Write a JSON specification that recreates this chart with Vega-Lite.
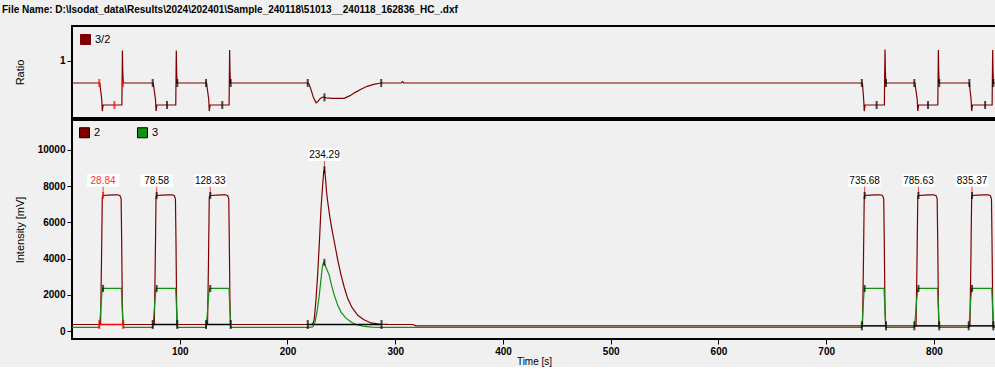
{
  "$schema": "https://vega.github.io/schema/vega-lite/v6.json",
  "background": "#f0f0f0",
  "padding": {"left": 2, "top": 5, "right": 0, "bottom": 0},
  "title": {"text": "File Name: D:\\Isodat_data\\Results\\2024\\202401\\Sample_240118\\51013__240118_162836_HC_.dxf", "anchor": "start", "fontSize": 10, "fontWeight": "bold", "font": "Liberation Sans", "color": "#000", "offset": 10, "dx": -11},
  "config": {
    "font": "Liberation Sans",
    "view": {"stroke": "#000", "strokeWidth": 2, "fill": "#f0f0f0"},
    "axis": {"domainColor": "#000", "tickColor": "#000", "labelColor": "#000", "titleColor": "#000", "labelFont": "Liberation Sans", "titleFont": "Liberation Sans", "labelFontSize": 10, "labelFontWeight": "bold", "titleFontSize": 11, "titleFontWeight": "normal", "grid": false, "tickSize": 5},
    "legend": {"title": null, "orient": "top-left", "padding": 0, "direction": "horizontal", "symbolType": "square", "symbolSize": 100, "symbolStrokeColor": "#000", "symbolStrokeWidth": 1, "symbolOpacity": 1, "labelFontSize": 11, "labelFont": "Liberation Sans", "labelColor": "#000", "labelOffset": 4}
  },
  "spacing": 0,
  "resolve": {"scale": {"color": "independent", "stroke": "independent", "fill": "independent"}, "legend": {"color": "independent", "stroke": "independent", "fill": "independent"}},
  "datasets": {
    "sig": [
      {"t":0,"v":375,"s":"2"},
      {"t":26.5,"v":375,"s":"2"},{"t":27.3,"v":3500,"s":"2"},{"t":28.1,"v":7400,"s":"2"},{"t":28.84,"v":7480,"s":"2"},{"t":34,"v":7500,"s":"2"},{"t":39,"v":7510,"s":"2"},{"t":42.6,"v":7520,"s":"2"},{"t":44.6,"v":7470,"s":"2"},{"t":45.6,"v":7300,"s":"2"},{"t":46.1,"v":5000,"s":"2"},{"t":46.7,"v":1500,"s":"2"},{"t":47.3,"v":375,"s":"2"},
      {"t":76.4,"v":375,"s":"2"},{"t":77.2,"v":3500,"s":"2"},{"t":78.0,"v":7400,"s":"2"},{"t":78.58,"v":7480,"s":"2"},{"t":84,"v":7500,"s":"2"},{"t":89,"v":7510,"s":"2"},{"t":93,"v":7520,"s":"2"},{"t":95,"v":7470,"s":"2"},{"t":96,"v":7300,"s":"2"},{"t":96.5,"v":5000,"s":"2"},{"t":97.1,"v":1500,"s":"2"},{"t":97.7,"v":375,"s":"2"},
      {"t":125.8,"v":375,"s":"2"},{"t":126.6,"v":3500,"s":"2"},{"t":127.4,"v":7400,"s":"2"},{"t":128.33,"v":7480,"s":"2"},{"t":134,"v":7500,"s":"2"},{"t":139,"v":7510,"s":"2"},{"t":142.5,"v":7520,"s":"2"},{"t":144.5,"v":7470,"s":"2"},{"t":145.5,"v":7300,"s":"2"},{"t":146,"v":5000,"s":"2"},{"t":146.6,"v":1500,"s":"2"},{"t":147.2,"v":375,"s":"2"},
      {"t":219,"v":375,"s":"2"},{"t":222.5,"v":385,"s":"2"},{"t":224,"v":480,"s":"2"},{"t":224.9,"v":700,"s":"2"},{"t":226.4,"v":1700,"s":"2"},{"t":228,"v":3100,"s":"2"},{"t":229.6,"v":4900,"s":"2"},{"t":231.1,"v":6750,"s":"2"},{"t":232.7,"v":8100,"s":"2"},{"t":233.6,"v":8750,"s":"2"},{"t":234.29,"v":8900,"s":"2"},{"t":235.2,"v":8500,"s":"2"},{"t":236.2,"v":7700,"s":"2"},{"t":237.3,"v":7150,"s":"2"},{"t":239.3,"v":6300,"s":"2"},{"t":241.3,"v":5600,"s":"2"},{"t":243.5,"v":4920,"s":"2"},{"t":246.6,"v":3950,"s":"2"},{"t":249.7,"v":3100,"s":"2"},{"t":252.8,"v":2400,"s":"2"},{"t":255.9,"v":1800,"s":"2"},{"t":260,"v":1300,"s":"2"},{"t":265.2,"v":880,"s":"2"},{"t":271,"v":640,"s":"2"},{"t":277.5,"v":460,"s":"2"},{"t":285,"v":400,"s":"2"},{"t":293,"v":380,"s":"2"},{"t":316.2,"v":375,"s":"2"},{"t":319.2,"v":300,"s":"2"},
      {"t":733.7,"v":300,"s":"2"},{"t":734.5,"v":3500,"s":"2"},{"t":735.3,"v":7400,"s":"2"},{"t":735.68,"v":7480,"s":"2"},{"t":741,"v":7500,"s":"2"},{"t":746,"v":7510,"s":"2"},{"t":750.4,"v":7520,"s":"2"},{"t":752.4,"v":7470,"s":"2"},{"t":753.4,"v":7300,"s":"2"},{"t":753.9,"v":5000,"s":"2"},{"t":754.5,"v":1500,"s":"2"},{"t":755.1,"v":300,"s":"2"},
      {"t":783.4,"v":300,"s":"2"},{"t":784.2,"v":3500,"s":"2"},{"t":785,"v":7400,"s":"2"},{"t":785.63,"v":7480,"s":"2"},{"t":791,"v":7500,"s":"2"},{"t":796,"v":7510,"s":"2"},{"t":800,"v":7520,"s":"2"},{"t":802,"v":7470,"s":"2"},{"t":803,"v":7300,"s":"2"},{"t":803.5,"v":5000,"s":"2"},{"t":804.1,"v":1500,"s":"2"},{"t":804.7,"v":300,"s":"2"},
      {"t":833.4,"v":300,"s":"2"},{"t":834.2,"v":3500,"s":"2"},{"t":835,"v":7400,"s":"2"},{"t":835.37,"v":7480,"s":"2"},{"t":841,"v":7500,"s":"2"},{"t":846,"v":7510,"s":"2"},{"t":850.4,"v":7520,"s":"2"},{"t":852.4,"v":7470,"s":"2"},{"t":853.4,"v":7300,"s":"2"},{"t":853.9,"v":5000,"s":"2"},{"t":854.5,"v":1500,"s":"2"},{"t":855.1,"v":300,"s":"2"},{"t":857.6,"v":300,"s":"2"},
      {"t":0,"v":220,"s":"3"},
      {"t":25.3,"v":220,"s":"3"},{"t":26.2,"v":800,"s":"3"},{"t":27.2,"v":1700,"s":"3"},{"t":28.1,"v":2300,"s":"3"},{"t":28.84,"v":2360,"s":"3"},{"t":45.8,"v":2370,"s":"3"},{"t":46.4,"v":1600,"s":"3"},{"t":47,"v":700,"s":"3"},{"t":47.6,"v":220,"s":"3"},
      {"t":74.9,"v":220,"s":"3"},{"t":75.9,"v":800,"s":"3"},{"t":77,"v":1700,"s":"3"},{"t":78,"v":2300,"s":"3"},{"t":78.58,"v":2360,"s":"3"},{"t":96.2,"v":2370,"s":"3"},{"t":96.8,"v":1600,"s":"3"},{"t":97.3,"v":700,"s":"3"},{"t":97.7,"v":220,"s":"3"},
      {"t":124.4,"v":220,"s":"3"},{"t":125.4,"v":800,"s":"3"},{"t":126.4,"v":1700,"s":"3"},{"t":127.4,"v":2300,"s":"3"},{"t":128.33,"v":2360,"s":"3"},{"t":145.7,"v":2370,"s":"3"},{"t":146.3,"v":1600,"s":"3"},{"t":146.9,"v":700,"s":"3"},{"t":147.3,"v":220,"s":"3"},
      {"t":219,"v":220,"s":"3"},{"t":223.4,"v":240,"s":"3"},{"t":225.5,"v":500,"s":"3"},{"t":227.5,"v":1100,"s":"3"},{"t":229.5,"v":1980,"s":"3"},{"t":231.3,"v":3000,"s":"3"},{"t":232.6,"v":3650,"s":"3"},{"t":233.6,"v":3800,"s":"3"},{"t":235.2,"v":3600,"s":"3"},{"t":238.8,"v":3080,"s":"3"},{"t":241,"v":2500,"s":"3"},{"t":243.5,"v":1980,"s":"3"},{"t":246.6,"v":1450,"s":"3"},{"t":249.7,"v":1060,"s":"3"},{"t":254,"v":740,"s":"3"},{"t":259,"v":510,"s":"3"},{"t":264,"v":360,"s":"3"},{"t":270,"v":285,"s":"3"},{"t":278,"v":235,"s":"3"},{"t":287,"v":220,"s":"3"},
      {"t":733.1,"v":220,"s":"3"},{"t":733.8,"v":800,"s":"3"},{"t":734.6,"v":1700,"s":"3"},{"t":735.3,"v":2300,"s":"3"},{"t":735.68,"v":2360,"s":"3"},{"t":753.6,"v":2370,"s":"3"},{"t":754.3,"v":1600,"s":"3"},{"t":754.9,"v":700,"s":"3"},{"t":755.5,"v":220,"s":"3"},
      {"t":781.8,"v":220,"s":"3"},{"t":782.8,"v":800,"s":"3"},{"t":783.9,"v":1700,"s":"3"},{"t":785,"v":2300,"s":"3"},{"t":785.63,"v":2360,"s":"3"},{"t":803.2,"v":2370,"s":"3"},{"t":803.9,"v":1600,"s":"3"},{"t":804.4,"v":700,"s":"3"},{"t":804.9,"v":220,"s":"3"},
      {"t":832.3,"v":220,"s":"3"},{"t":833.2,"v":800,"s":"3"},{"t":834.1,"v":1700,"s":"3"},{"t":835,"v":2300,"s":"3"},{"t":835.37,"v":2360,"s":"3"},{"t":853.6,"v":2370,"s":"3"},{"t":854.2,"v":1600,"s":"3"},{"t":854.7,"v":700,"s":"3"},{"t":855.1,"v":220,"s":"3"},{"t":857.6,"v":220,"s":"3"}
    ],
    "ratio": [
      {"t":0,"v":0.6,"s":"3/2"},
      {"t":25.8,"v":0.6,"s":"3/2"},{"t":27.6,"v":0.3,"s":"3/2"},{"t":28.1,"v":0.09,"s":"3/2"},{"t":28.9,"v":0.2,"s":"3/2"},{"t":46.3,"v":0.2,"s":"3/2"},{"t":46.6,"v":0.8,"s":"3/2"},{"t":46.8,"v":1.19,"s":"3/2"},{"t":47.1,"v":0.85,"s":"3/2"},{"t":47.5,"v":0.6,"s":"3/2"},
      {"t":75.4,"v":0.6,"s":"3/2"},{"t":77.5,"v":0.3,"s":"3/2"},{"t":78,"v":0.09,"s":"3/2"},{"t":78.8,"v":0.2,"s":"3/2"},{"t":96.3,"v":0.2,"s":"3/2"},{"t":96.6,"v":0.8,"s":"3/2"},{"t":96.8,"v":1.19,"s":"3/2"},{"t":97.1,"v":0.85,"s":"3/2"},{"t":97.5,"v":0.6,"s":"3/2"},
      {"t":124.9,"v":0.6,"s":"3/2"},{"t":126.9,"v":0.3,"s":"3/2"},{"t":127.4,"v":0.09,"s":"3/2"},{"t":128.2,"v":0.2,"s":"3/2"},{"t":145.8,"v":0.2,"s":"3/2"},{"t":146.1,"v":0.8,"s":"3/2"},{"t":146.3,"v":1.2,"s":"3/2"},{"t":146.6,"v":0.85,"s":"3/2"},{"t":147,"v":0.6,"s":"3/2"},
      {"t":218.8,"v":0.6,"s":"3/2"},{"t":220,"v":0.58,"s":"3/2"},{"t":222,"v":0.47,"s":"3/2"},{"t":224,"v":0.34,"s":"3/2"},{"t":226.5,"v":0.24,"s":"3/2"},{"t":228.5,"v":0.27,"s":"3/2"},{"t":230.5,"v":0.32,"s":"3/2"},{"t":232.7,"v":0.345,"s":"3/2"},{"t":236,"v":0.33,"s":"3/2"},{"t":242,"v":0.32,"s":"3/2"},{"t":252.7,"v":0.32,"s":"3/2"},{"t":258,"v":0.37,"s":"3/2"},{"t":263,"v":0.43,"s":"3/2"},{"t":268.2,"v":0.485,"s":"3/2"},{"t":274,"v":0.54,"s":"3/2"},{"t":280,"v":0.575,"s":"3/2"},{"t":286.7,"v":0.6,"s":"3/2"},{"t":305.5,"v":0.6,"s":"3/2"},{"t":306.9,"v":0.625,"s":"3/2"},{"t":308,"v":0.6,"s":"3/2"},
      {"t":733.6,"v":0.6,"s":"3/2"},{"t":734.8,"v":0.3,"s":"3/2"},{"t":735.3,"v":0.09,"s":"3/2"},{"t":736.1,"v":0.2,"s":"3/2"},{"t":754,"v":0.2,"s":"3/2"},{"t":754.3,"v":0.8,"s":"3/2"},{"t":754.6,"v":1.21,"s":"3/2"},{"t":754.9,"v":0.85,"s":"3/2"},{"t":755.3,"v":0.6,"s":"3/2"},
      {"t":782.3,"v":0.6,"s":"3/2"},{"t":784.5,"v":0.3,"s":"3/2"},{"t":785,"v":0.09,"s":"3/2"},{"t":785.8,"v":0.2,"s":"3/2"},{"t":803.6,"v":0.2,"s":"3/2"},{"t":803.9,"v":0.8,"s":"3/2"},{"t":804.1,"v":1.2,"s":"3/2"},{"t":804.4,"v":0.85,"s":"3/2"},{"t":804.8,"v":0.6,"s":"3/2"},
      {"t":832.8,"v":0.6,"s":"3/2"},{"t":834.5,"v":0.3,"s":"3/2"},{"t":835,"v":0.09,"s":"3/2"},{"t":835.8,"v":0.2,"s":"3/2"},{"t":854,"v":0.2,"s":"3/2"},{"t":854.3,"v":0.8,"s":"3/2"},{"t":854.5,"v":1.2,"s":"3/2"},{"t":854.8,"v":0.85,"s":"3/2"},{"t":855.2,"v":0.6,"s":"3/2"},{"t":857.6,"v":0.6,"s":"3/2"}
    ],
    "rticks": [
      {"t":25.3,"v":0.6,"sel":1},{"t":39.3,"v":0.2,"sel":1},{"t":47.2,"v":0.6,"sel":1},
      {"t":74.9,"v":0.6,"sel":0},{"t":88.2,"v":0.2,"sel":0},{"t":97.7,"v":0.6,"sel":0},
      {"t":124.4,"v":0.6,"sel":0},{"t":139.5,"v":0.2,"sel":0},{"t":147.3,"v":0.6,"sel":0},
      {"t":218.8,"v":0.6,"sel":0},{"t":234.3,"v":0.34,"sel":0},{"t":287,"v":0.6,"sel":0},
      {"t":733.1,"v":0.6,"sel":0},{"t":746.8,"v":0.2,"sel":0},{"t":755.5,"v":0.6,"sel":0},
      {"t":781.8,"v":0.6,"sel":0},{"t":794.5,"v":0.2,"sel":0},{"t":804.9,"v":0.6,"sel":0},
      {"t":832.9,"v":0.6,"sel":0},{"t":847.5,"v":0.2,"sel":0},{"t":855.1,"v":0.6,"sel":0}
    ],
    "peaks": [
      {"lab":"28.84","P":28.84,"top":7480,"gtop":2360,"S":25.3,"E":47.6,"base":375,"sel":1},
      {"lab":"78.58","P":78.58,"top":7480,"gtop":2360,"S":74.9,"E":97.7,"base":375,"sel":0},
      {"lab":"128.33","P":128.33,"top":7480,"gtop":2360,"S":124.4,"E":147.3,"base":375,"sel":0},
      {"lab":"234.29","P":234.29,"top":8900,"gtop":3800,"S":218.8,"E":287.3,"base":375,"sel":0},
      {"lab":"735.68","P":735.68,"top":7480,"gtop":2360,"S":733.1,"E":755.5,"base":300,"sel":0},
      {"lab":"785.63","P":785.63,"top":7480,"gtop":2360,"S":781.8,"E":804.9,"base":300,"sel":0},
      {"lab":"835.37","P":835.37,"top":7480,"gtop":2360,"S":832.3,"E":855.1,"base":300,"sel":0}
    ]
  },
  "vconcat": [
    {
      "width": 924,
      "height": 92,
      "layer": [
        {
          "data": {"name": "ratio"},
          "mark": {"type": "line", "strokeWidth": 1.2, "clip": true},
          "encoding": {
            "x": {"field": "t", "type": "quantitative", "scale": {"domain": [0, 857.6], "nice": false, "zero": false}, "axis": null},
            "y": {"field": "v", "type": "quantitative", "scale": {"domain": [-0.036, 1.636], "nice": false, "zero": false}, "axis": {"values": [1], "format": "d", "title": "Ratio", "minExtent": 40, "maxExtent": 40, "titlePadding": 7, "labelPadding": 2}},
            "color": {"field": "s", "type": "nominal", "scale": {"domain": ["3/2"], "range": ["#800000"]},
              "legend": {"offset": 8, "symbolFillColor": "#800000"}}
          }
        },
        {
          "data": {"name": "rticks"},
          "mark": {"type": "tick", "orient": "vertical", "size": 8, "thickness": 2},
          "encoding": {
            "x": {"field": "t", "type": "quantitative"},
            "y": {"field": "v", "type": "quantitative"},
            "color": {"condition": {"test": "datum.sel == 1", "value": "#ff0000"}, "value": "#000000"}
          }
        }
      ]
    },
    {
      "width": 924,
      "height": 219,
      "layer": [
        {
          "data": {"name": "sig"},
          "mark": {"type": "point", "shape": "square", "filled": true, "size": 0.01, "clip": true},
          "encoding": {
            "x": {"field": "t", "type": "quantitative", "scale": {"domain": [0, 857.6], "nice": false, "zero": false}, "axis": {"values": [100, 200, 300, 400, 500, 600, 700, 800], "title": "Time [s]", "titleFontSize": 10, "titlePadding": 0, "labelPadding": 2}},
            "y": {"field": "v", "type": "quantitative", "scale": {"domain": [-424, 11640], "nice": false, "zero": false}, "axis": {"values": [0, 2000, 4000, 6000, 8000, 10000], "format": "d", "title": "Intensity [mV]", "minExtent": 40, "maxExtent": 40, "titlePadding": 7, "labelPadding": 2}},
            "fill": {"field": "s", "type": "nominal", "scale": {"domain": ["2", "3"], "range": ["#800000", "#129012"]},
              "legend": {"offset": 7, "columnPadding": 34}}
          }
        },
        {
          "data": {"name": "sig"},
          "mark": {"type": "line", "strokeWidth": 1.2, "clip": true},
          "encoding": {
            "x": {"field": "t", "type": "quantitative"},
            "y": {"field": "v", "type": "quantitative"},
            "stroke": {"field": "s", "type": "nominal", "scale": {"domain": ["3", "2"], "range": ["#129012", "#800000"]}, "legend": null},
            "order": {"field": "t", "type": "quantitative"}
          }
        },
        {
          "data": {"name": "peaks"},
          "mark": {"type": "rule", "strokeWidth": 1.5},
          "encoding": {
            "x": {"field": "S", "type": "quantitative"},
            "x2": {"field": "E"},
            "y": {"field": "base", "type": "quantitative"},
            "color": {"condition": {"test": "datum.sel == 1", "value": "#ff0000"}, "value": "#000000"}
          }
        },
        {
          "data": {"name": "peaks"},
          "transform": [{"fold": ["S", "E"], "as": ["k", "tt"]}],
          "mark": {"type": "tick", "orient": "vertical", "size": 9, "thickness": 2},
          "encoding": {
            "x": {"field": "tt", "type": "quantitative"},
            "y": {"field": "base", "type": "quantitative"},
            "color": {"condition": {"test": "datum.sel == 1", "value": "#ff0000"}, "value": "#000000"}
          }
        },
        {
          "data": {"name": "peaks"},
          "mark": {"type": "tick", "orient": "vertical", "size": 12, "thickness": 1, "yOffset": -6, "color": "#e00000"},
          "encoding": {
            "x": {"field": "P", "type": "quantitative"},
            "y": {"field": "top", "type": "quantitative"}
          }
        },
        {
          "data": {"name": "peaks"},
          "mark": {"type": "tick", "orient": "vertical", "size": 7, "thickness": 2},
          "encoding": {
            "x": {"field": "P", "type": "quantitative"},
            "y": {"field": "top", "type": "quantitative"},
            "color": {"condition": {"test": "datum.sel == 1", "value": "#ff0000"}, "value": "#000000"}
          }
        },
        {
          "data": {"name": "peaks"},
          "mark": {"type": "tick", "orient": "vertical", "size": 7, "thickness": 2, "color": "#000"},
          "encoding": {
            "x": {"field": "P", "type": "quantitative"},
            "y": {"field": "gtop", "type": "quantitative"}
          }
        },
        {
          "data": {"name": "peaks"},
          "mark": {"type": "point", "shape": "M-1.15,-0.45H1.15V0.45H-1.15Z", "size": 784, "filled": true, "fill": "#ffffff", "opacity": 1, "strokeWidth": 0, "yOffset": -15},
          "encoding": {
            "x": {"field": "P", "type": "quantitative"},
            "y": {"field": "top", "type": "quantitative"}
          }
        },
        {
          "data": {"name": "peaks"},
          "mark": {"type": "text", "dy": -15, "fontSize": 10, "baseline": "middle", "align": "center", "font": "Liberation Sans"},
          "encoding": {
            "x": {"field": "P", "type": "quantitative"},
            "y": {"field": "top", "type": "quantitative"},
            "text": {"field": "lab"},
            "color": {"condition": {"test": "datum.sel == 1", "value": "#ff3030"}, "value": "#000000"}
          }
        }
      ]
    }
  ]
}
